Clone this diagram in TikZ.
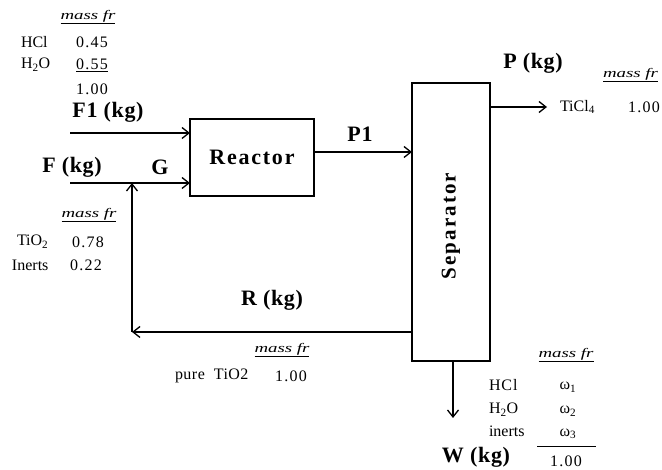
\documentclass[tikz,border=0pt]{standalone}
\usepackage{fontspec}
\setmainfont{Liberation Serif}
\usetikzlibrary{arrows.meta}
\newcommand{\mfr}{\scalebox{1.45}[1]{\fontsize{13}{14}\selectfont\itshape\underline{mass fr}}}
\begin{document}
\begin{tikzpicture}[x=1pt,y=-1pt,
  every node/.style={inner sep=0pt,outer sep=0pt},
  unit/.style={draw,line width=1.3pt},
  flow/.style={line width=1.3pt,-{Straight Barb[length=7pt,width=11pt,line width=1.3pt]}},
  lbl/.style={font=\fontsize{22}{24}\selectfont\bfseries\addfontfeature{LetterSpace=3}},
  sm/.style={font=\fontsize{16}{18}\selectfont},
  num/.style={font=\fontsize{16}{18}\selectfont\addfontfeature{LetterSpace=8}}]
\useasboundingbox (0,0) rectangle (662,470);
% units
\node[unit,minimum width=124pt,minimum height=77pt,font=\fontsize{22}{24}\selectfont\bfseries\addfontfeature{LetterSpace=8}] (reactor) at (252,157.5) {Reactor};
\node[unit,minimum width=78pt,minimum height=278pt] (sep) at (451,222) {};
\node[rotate=90,font=\fontsize{21}{22}\selectfont\bfseries\addfontfeature{LetterSpace=10}] (septxt) at (451,226) {Separator};
% coordinates
\coordinate (f1s) at (70,133);
\coordinate (fs) at (70,183);
\coordinate (g) at (132,183);
\coordinate (rc) at (132,332);
\coordinate (pe) at (547,107);
\coordinate (we) at (453,418);
% flows
\draw[flow] (f1s) -- (f1s -| reactor.west);
\draw[flow] (fs) -- (fs -| reactor.west);
\draw[flow] (reactor.east |- 0,152) -- (sep.west |- 0,152);
\draw[flow] (sep.east |- pe) -- (pe);
\draw[flow] (sep.west |- rc) -- (rc);
\draw[flow] (rc) -- (g);
\draw[flow] (we |- sep.south) -- (we);
% stream labels
\node[lbl] (lf1) at (108,112) {F1 (kg)};
\node[lbl] (lf) at (72,167) {F (kg)};
\node[lbl] (lg) at (160,167) {G};
\node[lbl] (lp1) at (360,134) {P1};
\node[lbl] (lp) at (533,63) {P (kg)};
\node[lbl] (lr) at (272,300) {R (kg)};
\node[lbl] (lw) at (476,457) {W (kg)};
% top-left table
\node (m1) at (88,17) {\mfr};
\node[sm,anchor=west] (a1) at (21,42) {HCl};
\node[num] (a2) at (92,42) {0.45};
\node[sm,anchor=west] (a3) at (21,65) {H\textsubscript{2}O};
\node[num] (a4) at (92,65) {\underline{0.55}};
\node[num] (a5) at (92,89) {1.00};
% left middle table
\node (m2) at (89,215) {\mfr};
\node[sm,anchor=west] (b1) at (17,242) {TiO\textsubscript{2}};
\node[num] (b2) at (88,242) {0.78};
\node[sm,anchor=west] (b3) at (12,265) {Inerts};
\node[num] (b4) at (86,265) {0.22};
% top-right table
\node[anchor=west] (m3) at (603,75) {\mfr};
\node[sm,anchor=west] (c1) at (560,107) {TiCl\textsubscript{4}};
\node[num] (c2) at (644,107) {1.00};
% recycle table
\node (m4) at (282,350) {\mfr};
\node[anchor=west,font=\fontsize{16}{18}\selectfont\addfontfeature{LetterSpace=3}] (d1) at (175,376) {pure\ \ TiO2};
\node[num] (d2) at (291,376) {1.00};
% bottom-right table
\node (m5) at (566,355) {\mfr};
\node[anchor=west,font=\fontsize{16}{18}\selectfont\addfontfeature{LetterSpace=6}] (e1) at (489,385) {HCl};
\node[sm] (e2) at (568,387) {ω\textsubscript{1}};
\node[anchor=west,font=\fontsize{16}{18}\selectfont\addfontfeature{LetterSpace=6}] (e3) at (489,410) {H\textsubscript{2}O};
\node[sm] (e4) at (568,411) {ω\textsubscript{2}};
\node[sm,anchor=west] (e5) at (489,431) {inerts};
\node[sm] (e6) at (568,434) {ω\textsubscript{3}};
\coordinate (ul) at (537,447);
\coordinate (ur) at (596,447);
\draw[line width=1pt] (ul) -- (ur);
\node[num] (e7) at (566,461) {1.00};
\end{tikzpicture}
\end{document}
